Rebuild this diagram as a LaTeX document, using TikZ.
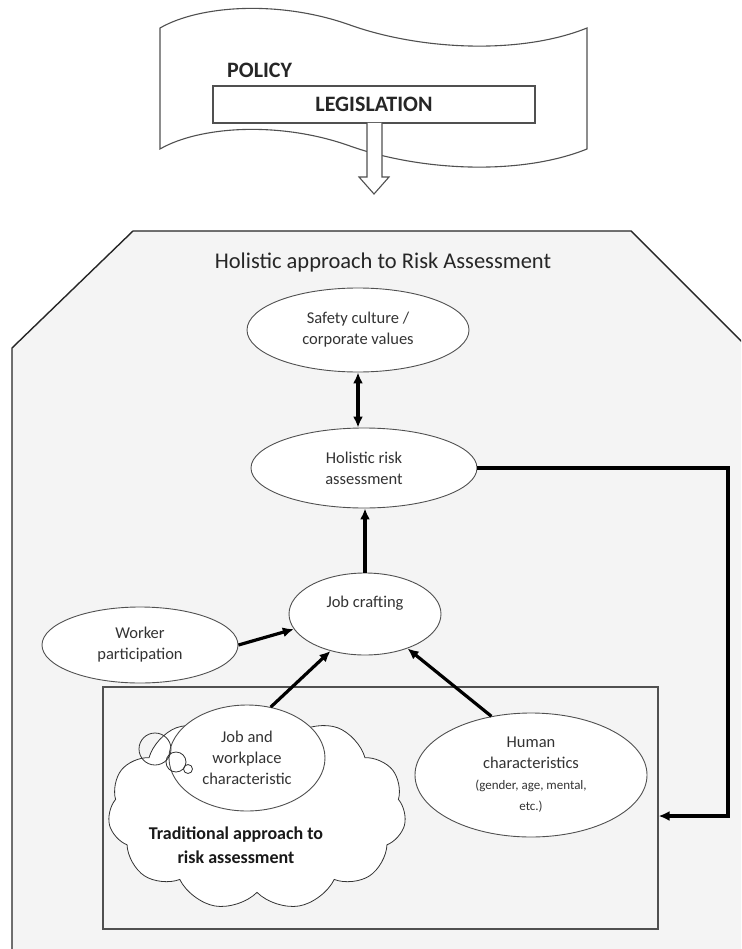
\documentclass[tikz,border=0pt]{standalone}
\usepackage{fontspec}
\setmainfont{Carlito}
\usetikzlibrary{shapes.geometric,shapes.symbols,arrows.meta}
\definecolor{bgfill}{HTML}{F4F4F4}
\definecolor{edge}{HTML}{505050}
\definecolor{ink}{HTML}{333333}
\newcommand\hcsmall{\fontsize{13}{16}\selectfont}
\tikzset{
  ell/.style={ellipse, draw=edge, fill=white, line width=0.9pt, inner sep=0pt,
    align=center, font=\fontsize{16.5}{21}\selectfont, text=ink},
  txt/.style={align=center, font=\fontsize{16.5}{21}\selectfont, text=ink, inner sep=0pt},
  tip/.style={-{Latex[length=11pt,width=10pt]}},
  conn/.style={line width=3.2pt, tip},
}
\begin{document}
\begin{tikzpicture}[x=1pt,y=-1pt]
\useasboundingbox (0,0) rectangle (741,949);
\clip (0,0) rectangle (741,949);
\fill[white] (0,0) rectangle (741,949);

% banner
\draw[draw=edge, fill=white, line width=1.1pt]
  (160,28) .. controls (200,5) and (280,0) .. (350,25)
  .. controls (420,50) and (520,55) .. (587,28)
  -- (587,149)
  .. controls (520,176) and (420,171) .. (350,146)
  .. controls (280,121) and (200,126) .. (160,149) -- cycle;
\node[font=\bfseries\fontsize{22}{26}\selectfont, text=black!85, inner sep=0pt, anchor=west] (policy) at (227,70) {POLICY};
\node[draw=edge, fill=white, line width=1.1pt, minimum width=322pt, minimum height=37pt, inner sep=0pt,
  font=\bfseries\fontsize{22}{26}\selectfont, text=black!85] (leg) at (374,104.5) {LEGISLATION};
\draw[draw=edge, fill=white, line width=1.1pt]
  (367,123) -- (367,177) -- (359,177) -- (374,194) -- (389,177) -- (382,177) -- (382,123);

% big holistic area
\draw[fill=bgfill, draw=black!85, line width=1.4pt]
  (133,231) -- (631,231) -- (800,400) -- (800,1000) -- (12,1000) -- (12,348) -- cycle;
\node[font=\fontsize{22.5}{27}\selectfont, text=black!85, inner sep=0pt] (title) at (383,263) {Holistic approach to Risk Assessment};

% traditional box
\node[draw=edge, line width=1.1pt, minimum width=555pt, minimum height=242pt, inner sep=0pt] (trad) at (380.5,808) {};

% cloud
\node[cloud, cloud puffs=11, cloud puff arc=110, aspect=1.5, draw=black!80, fill=white, line width=0.8pt,
  minimum width=298pt, minimum height=198pt, inner sep=0pt] (cloud) at (257,811) {};
\node[font=\bfseries\fontsize{18}{24}\selectfont, align=center, text=black!90, inner sep=0pt] (cloudt) at (236,845)
  {Traditional approach to\\risk assessment};

% ellipses
\node[ell, minimum width=222pt, minimum height=84pt] (safety) at (358,330) {Safety culture /\\corporate values};
\node[ell, minimum width=226pt, minimum height=80pt] (holistic) at (364,468) {Holistic risk\\assessment};
\node[ell, minimum width=152pt, minimum height=82pt] (jc) at (365,614) {};
\node[txt] (jct) at (365,603) {Job crafting};
\node[ell, minimum width=196pt, minimum height=76pt] (worker) at (140,645) {Worker\\participation};
\node[ell, minimum width=156pt, minimum height=106pt] (jw) at (247,758) {Job and\\workplace\\characteristic};
\node[ell, minimum width=232pt, minimum height=124pt] (human) at (531,775)
  {Human\\characteristics\\{\hcsmall(gender, age, mental,}\\{\hcsmall etc.)}};

% thought-bubble circles
\draw[black!80, line width=0.8pt] (155,749) circle (16pt);
\draw[black!80, line width=0.8pt] (176,762) circle (10pt);
\draw[black!80, line width=0.8pt] (188,769) circle (4.5pt);

% connectors
\draw[line width=3.2pt, {Latex[length=11pt,width=10pt]}-{Latex[length=11pt,width=10pt]}]
  (safety.south) -- (safety.south |- holistic.north);
\draw[conn] (jc.north) -- (jc.north |- holistic.south);
\draw[conn] (worker.east) -- (jc.192);
\draw[conn] (jw.65) -- (jc.227);
\draw[conn] (human.124) -- (jc.321);
\coordinate (fbc) at (728,816);
\draw[line width=4pt, tip] (holistic.east) -| (fbc) -- (fbc -| trad.east);
\end{tikzpicture}
\end{document}
